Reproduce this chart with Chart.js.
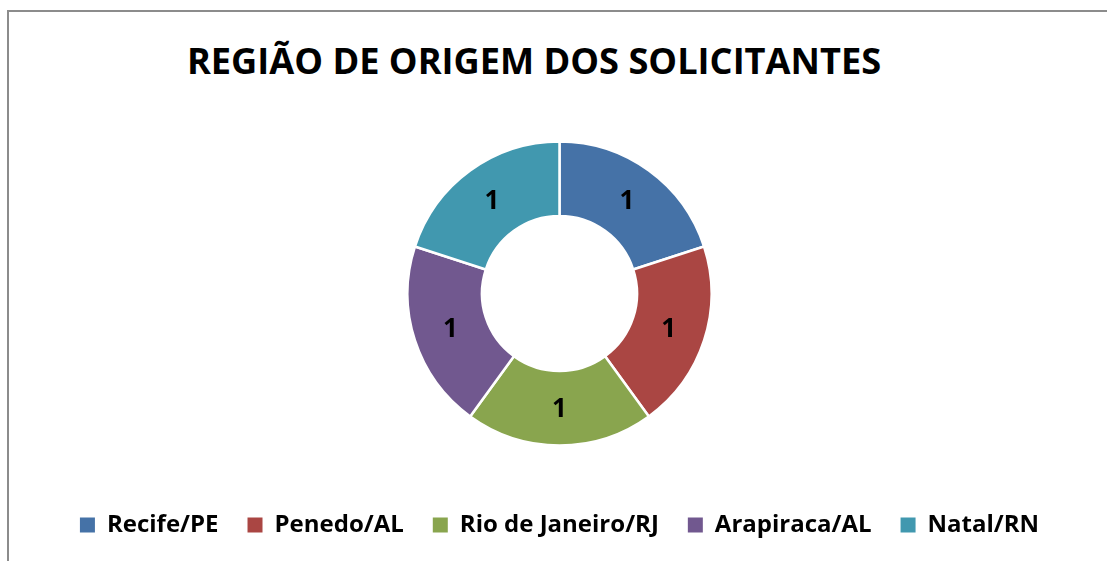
<!DOCTYPE html>
<html lang="pt">
<head>
    <meta charset="UTF-8">
    <title>Região de origem dos solicitantes</title>
    <script src="https://cdn.jsdelivr.net/npm/chart.js"></script>
    <style>
        body { margin: 0; background: #fff; }
        .frame {
            position: absolute; left: 7px; top: 10px; width: 1200px; height: 700px;
            border-left: 2px solid #8c8c8c; border-top: 2px solid #8c8c8c;
        }
        .title {
            position: absolute; left: 0; width: 1068px; top: 36px;
            text-align: center; font: bold 36.2px "Open Sans"; line-height: 48px; color: #000;
        }
        .wrap { position: absolute; left: 0; top: 0; width: 1107px; height: 561px; }
    </style>
</head>
<body>
    <div class="frame"></div>
    <div class="title">REGIÃO DE ORIGEM DOS SOLICITANTES</div>
    <div class="wrap"><canvas id="origemChart"></canvas></div>

    <script>
        const regioes = ['Recife/PE', 'Penedo/AL', 'Rio de Janeiro/RJ', 'Arapiraca/AL', 'Natal/RN'];
        const solicitantes = [1, 1, 1, 1, 1];
        const cores = ['#4572A7', '#AA4643', '#89A54E', '#71588F', '#4198AF'];

        // writes the value in the middle of each slice
        const sliceLabels = {
            id: 'sliceLabels',
            afterDatasetsDraw(chart) {
                const ctx = chart.ctx;
                const meta = chart.getDatasetMeta(0);
                ctx.save();
                ctx.font = 'bold 26px "Open Sans"';
                ctx.fillStyle = '#000';
                ctx.textAlign = 'center';
                ctx.textBaseline = 'middle';
                meta.data.forEach((arc, i) => {
                    const p = arc.tooltipPosition();
                    ctx.fillText(String(solicitantes[i]), p.x, p.y + 1);
                });
                ctx.restore();
            }
        };

        new Chart(document.getElementById('origemChart'), {
            type: 'doughnut',
            data: {
                labels: regioes,
                datasets: [{
                    data: solicitantes,
                    backgroundColor: cores,
                    borderColor: '#fff',
                    borderWidth: 2.5
                }]
            },
            options: {
                responsive: true,
                maintainAspectRatio: false,
                animation: false,
                radius: 152,
                cutout: '51%',
                layout: { padding: { top: 103, bottom: 14, left: 12, right: 0 } },
                plugins: {
                    tooltip: { enabled: false },
                    legend: {
                        position: 'bottom',
                        labels: {
                            color: '#000',
                            font: { family: '"Open Sans"', size: 24, weight: 'bold' },
                            boxWidth: 15,
                            boxHeight: 15,
                            padding: 29,
                            generateLabels(chart) {
                                // no white outline on the legend squares
                                const items = Chart.overrides.doughnut.plugins.legend.labels.generateLabels(chart);
                                items.forEach(it => { it.lineWidth = 0; });
                                return items;
                            }
                        }
                    }
                }
            },
            plugins: [sliceLabels]
        });
    </script>
</body>
</html>
